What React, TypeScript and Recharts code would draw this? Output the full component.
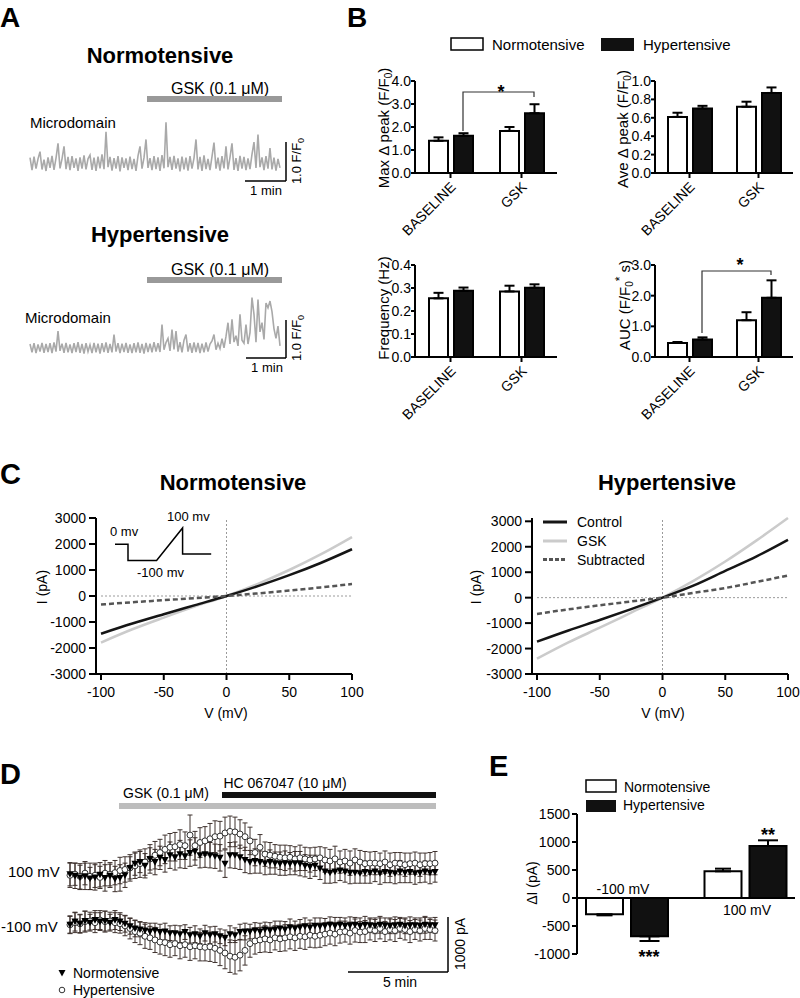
import React from 'react';
import { BarChart, Bar, XAxis, YAxis, ErrorBar, LineChart, Line, ReferenceLine, ScatterChart, Scatter } from 'recharts';

const FONT = '"Liberation Sans", Arial, Helvetica, sans-serif';
const BLACK = '#000';

// ---------------- Panel A : microdomain traces (F/F0) ----------------
const normoTrace = [
  1.15, 0.82, 1.18, 0.86, 1.12, 1.31, 0.84, 1.10, 0.80, 1.16,
  0.88, 1.20, 0.83, 1.14, 1.53, 0.87, 1.12, 1.45, 0.85, 1.17,
  0.82, 1.19, 0.88, 1.13, 0.80, 1.16, 0.86, 1.21, 0.84, 1.12,
  1.22, 0.83, 1.15, 0.80, 1.18, 0.87, 1.24, 0.85, 1.83, 0.90,
  1.17, 0.81, 1.14, 0.86, 1.19, 0.79, 1.16, 0.88, 1.13, 0.82,
  1.18, 0.85, 1.12, 0.80, 1.20, 1.45, 0.86, 1.15, 1.63, 0.88,
  1.14, 0.82, 1.19, 0.85, 1.16, 0.80, 1.22, 0.87, 2.08, 0.90,
  1.17, 0.83, 1.20, 0.86, 1.13, 0.79, 1.18, 0.84, 1.15, 0.81,
  1.19, 0.86, 1.14, 1.63, 0.84, 1.17, 0.80, 1.21, 0.85, 1.12,
  0.82, 1.18, 1.55, 0.86, 1.15, 0.81, 1.19, 0.87, 1.45, 0.84,
  1.16, 1.53, 0.83, 1.14, 0.80, 1.20, 0.86, 1.17, 0.82, 1.13,
  0.85, 1.24, 1.56, 0.88, 1.76, 0.90, 1.16, 0.82, 1.19, 0.86,
  1.40, 0.84, 1.15, 0.81, 1.12, 0.88,
];
const hyperTrace = [
  1.10, 0.88, 1.12, 0.86, 1.09, 0.90, 1.13, 0.87, 1.10, 0.89,
  1.12, 0.86, 1.14, 0.90, 1.44, 0.92, 1.11, 0.87, 1.13, 0.88,
  1.09, 0.86, 1.12, 0.89, 1.15, 0.87, 1.10, 0.85, 1.12, 0.90,
  1.08, 0.86, 1.13, 0.88, 1.11, 0.85, 1.12, 0.89, 1.14, 0.87,
  1.10, 0.88, 1.35, 0.90, 1.12, 0.86, 1.11, 0.89, 1.13, 0.87,
  1.09, 0.86, 1.12, 0.88, 1.14, 0.87, 1.10, 0.85, 1.13, 0.89,
  1.11, 0.88, 1.15, 0.90, 1.12, 0.89, 1.61, 0.95, 1.14, 1.25,
  0.92, 1.48, 0.96, 1.44, 0.90, 1.15, 0.88, 1.20, 1.35, 0.90,
  1.12, 0.87, 1.14, 0.89, 1.13, 0.86, 1.11, 0.88, 1.14, 0.90,
  1.10, 1.18, 1.35, 0.95, 1.12, 0.98, 1.24, 1.00, 1.30, 1.66,
  1.10, 1.75, 1.15, 1.32, 1.05, 1.88, 1.20, 1.12, 1.61, 1.10,
  1.40, 2.32, 1.88, 1.15, 2.27, 1.42, 1.66, 1.22, 2.18, 2.05,
  2.23, 1.95, 1.50, 1.25, 1.57, 1.05,
];

// ---------------- Panel B ----------------
const conditions = ['BASELINE', 'GSK'];
const maxPeakNormo = [1.40, 1.83];
const maxPeakNormoErr = [0.15, 0.17];
const maxPeakHyper = [1.62, 2.60];
const maxPeakHyperErr = [0.11, 0.39];
const maxPeakTicks = [0, 1, 2, 3, 4];
const avePeakNormo = [0.61, 0.72];
const avePeakNormoErr = [0.045, 0.055];
const avePeakHyper = [0.70, 0.87];
const avePeakHyperErr = [0.03, 0.06];
const avePeakTicks = [0, 0.2, 0.4, 0.6, 0.8, 1.0];
const freqNormo = [0.255, 0.285];
const freqNormoErr = [0.024, 0.025];
const freqHyper = [0.288, 0.301];
const freqHyperErr = [0.014, 0.015];
const freqTicks = [0, 0.1, 0.2, 0.3, 0.4];
const aucNormo = [0.46, 1.20];
const aucNormoErr = [0.03, 0.26];
const aucHyper = [0.57, 1.93];
const aucHyperErr = [0.07, 0.57];
const aucTicks = [0, 1, 2, 3];

// ---------------- Panel C : I-V curves ----------------
const voltages = [-100, -75, -50, -25, 0, 25, 50, 75, 100];
const vTicks = [-100, -50, 0, 50, 100];
const iTicks = [-3000, -2000, -1000, 0, 1000, 2000, 3000];
const normoControl = [-1450, -1060, -700, -350, 0, 380, 800, 1270, 1800];
const normoGsk = [-1790, -1280, -830, -400, 0, 470, 1000, 1600, 2270];
const normoSub = [-330, -240, -160, -80, 0, 100, 210, 330, 460];
const hyperControl = [-1730, -1290, -880, -450, 0, 480, 1050, 1620, 2270];
const hyperGsk = [-2400, -1760, -1180, -590, 0, 670, 1420, 2250, 3130];
const hyperSub = [-640, -460, -300, -150, 0, 190, 380, 620, 870];
const protoTime = [0, 1, 1, 3.2, 5.2, 5.2, 7.4];
const protoVoltage = [0, 0, -100, -100, 100, -60, -60];

// ---------------- Panel D : time course (pA change) ----------------
const normo100 = [
  40, 10, -20, 0, -40, -20, 30, -30, 10, -50, -30, 20,
  160, 240, 270, 200, 330, 270, 350, 310, 400, 360, 420, 380,
  440, 470, 400, 420, 400, 380, 350, 240, 400, 400, 360, 310,
  270, 290, 270, 250, 270, 250, 240, 250, 240, 250, 240, 200,
  180, 200, 150, 90, 70, 90, 110, 90, 70, 70, 60, 80,
  70, 90, 60, 80, 70, 60, 90, 70, 80, 60, 70, 90, 70, 80,
];
const normo100Err = [
  220, 240, 230, 250, 210, 240, 230, 250, 220, 240, 250, 230,
  210, 220, 200, 230, 210, 240, 220, 230, 250, 240, 260, 230,
  250, 260, 240, 250, 240, 230, 250, 260, 240, 250, 230, 240,
  220, 230, 210, 220, 230, 210, 220, 230, 210, 220, 230, 210,
  220, 200, 210, 220, 200, 210, 190, 200, 210, 200, 190, 210,
  200, 190, 210, 200, 190, 200, 210, 190, 200, 210, 190, 200, 210, 190,
];
const hyper100 = [
  20, 40, 0, 60, 0, 20, -20, 60, 40, 70, 110, 130,
  160, 200, 240, 270, 330, 400, 450, 510, 550, 560, 600, 580,
  780, 580, 640, 670, 710, 750, 760, 820, 850, 840, 800, 750,
  670, 450, 550, 420, 400, 380, 360, 350, 360, 330, 350, 330,
  310, 330, 350, 310, 290, 330, 270, 290, 250, 310, 270, 240,
  250, 250, 240, 270, 220, 250, 240, 220, 240, 250, 220, 240, 240, 250,
];
const hyper100Err = [
  230, 210, 240, 220, 250, 230, 210, 240, 220, 230, 250, 240,
  250, 240, 260, 250, 270, 260, 250, 270, 260, 270, 280, 260,
  380, 270, 280, 270, 290, 300, 280, 300, 290, 280, 270, 260,
  260, 250, 240, 230, 240, 220, 230, 240, 220, 230, 240, 220,
  230, 220, 210, 230, 220, 240, 210, 220, 230, 210, 220, 230,
  210, 220, 200, 210, 220, 200, 210, 220, 200, 210, 220, 200, 210, 220,
];
const normoM100 = [
  -20, 40, 0, 50, 20, 70, 40, 50, 20, 70, 40, 0,
  -50, -90, -110, -130, -150, -130, -160, -150, -180, -180, -200, -160,
  -220, -200, -240, -180, -220, -200, -240, -270, -200, -220, -160, -150,
  -150, -130, -150, -110, -130, -110, -90, -110, -70, -90, -70, -50,
  -70, -40, -50, -40, -20, -40, -20, -40, -30, -20, -40, -20,
  -30, -40, -20, -30, -40, -30, -20, -40, -30, -30, -40, -20, -30, -30,
];
const normoM100Err = [
  160, 180, 170, 190, 160, 180, 170, 190, 160, 180, 170, 160,
  150, 160, 140, 150, 160, 140, 150, 160, 140, 150, 160, 140,
  150, 160, 140, 150, 160, 150, 140, 150, 160, 140, 150, 160,
  140, 150, 160, 140, 150, 160, 140, 150, 160, 140, 150, 160,
  140, 150, 160, 140, 150, 160, 140, 150, 160, 140, 150, 160,
  140, 150, 160, 140, 150, 160, 140, 150, 160, 140, 150, 160, 140, 150,
];
const hyperM100 = [
  -20, 20, 0, 40, 50, 20, 70, 40, 50, 20, 0, -40,
  -90, -150, -180, -240, -270, -310, -350, -360, -400, -380, -420, -400,
  -440, -420, -440, -450, -440, -470, -510, -560, -620, -640, -600, -510,
  -380, -330, -310, -290, -310, -270, -290, -270, -250, -270, -240, -250,
  -220, -240, -220, -200, -180, -200, -160, -150, -180, -130, -160, -150,
  -110, -130, -90, -150, -110, -130, -90, -110, -150, -110, -130, -90, -110, -130,
];
const hyperM100Err = [
  170, 190, 180, 200, 170, 190, 180, 200, 170, 190, 180, 190,
  200, 210, 220, 230, 220, 240, 230, 250, 240, 230, 250, 240,
  260, 250, 270, 260, 280, 270, 290, 300, 310, 320, 300, 280,
  260, 250, 240, 250, 240, 230, 240, 250, 230, 240, 230, 240,
  230, 220, 230, 220, 210, 220, 210, 200, 210, 220, 200, 210,
  200, 210, 200, 190, 200, 210, 190, 200, 210, 190, 200, 210, 190, 200,
];

// ---------------- Panel E ----------------
const steps = ['-100 mV', '100 mV'];
const deltaINormo = [-290, 476];
const deltaINormoErr = [20, 48];
const deltaIHyper = [-685, 929];
const deltaIHyperErr = [83, 101];
const deltaTicks = [-1000, -500, 0, 500, 1000, 1500];

// ---------------- helpers ----------------
const tickStyle = { fontSize: 14, fill: BLACK, fontFamily: FONT };
const axisStroke = { stroke: BLACK, strokeWidth: 2 };

const RotTick = (props: any) => {
  const { x, y, payload } = props;
  const ax = x + 6;
  const ay = y + 8;
  return (
    <text x={ax} y={ay} transform={`rotate(-45 ${ax} ${ay})`} textAnchor="end" fontSize={14} fontFamily={FONT} fill={BLACK}>
      {payload.value}
    </text>
  );
};

const TriDown = (p: any) => (
  <polygon points={`${p.cx - 3.6},${p.cy - 3} ${p.cx + 3.6},${p.cy - 3} ${p.cx},${p.cy + 3.6}`} fill="#000" />
);
const OpenCircle = (p: any) => <circle cx={p.cx} cy={p.cy} r={3} fill="#fff" stroke="#333" strokeWidth={1} />;

function Trace({ values, px, py, pw, ph, domain }: any) {
  const M = 5;
  const data = values.map((v: number, i: number) => ({ i, v }));
  return (
    <div style={{ position: 'absolute', left: px - M, top: py - M }}>
      <LineChart width={pw + 2 * M} height={ph + 2 * M} data={data} margin={{ top: M, right: M, bottom: M, left: M }}>
        <XAxis type="number" dataKey="i" domain={[0, values.length - 1]} hide />
        <YAxis type="number" domain={domain} hide />
        <Line type="linear" dataKey="v" stroke="#a9a9a9" strokeWidth={1.6} dot={false} isAnimationActive={false} />
      </LineChart>
    </div>
  );
}

function GroupBarChart({ px, py, pw, ph, domain, ticks, normo, normoErr, hyper, hyperErr }: any) {
  const YW = 40, TOP = 10, R = 10, XH = 80;
  const data = conditions.map((c, k) => ({
    cond: c, n: normo[k], h: hyper[k], ne: [0, normoErr[k]], he: [0, hyperErr[k]],
  }));
  return (
    <div style={{ position: 'absolute', left: px - YW, top: py - TOP }}>
      <BarChart width={YW + pw + R} height={TOP + ph + XH} data={data} margin={{ top: TOP, right: R, bottom: 0, left: 0 }} barSize={19} barGap={6}>
        <XAxis dataKey="cond" height={XH} interval={0} tickSize={5} tickLine={axisStroke} axisLine={axisStroke} tick={<RotTick />} />
        <YAxis width={YW} type="number" domain={domain} ticks={ticks} interval={0} tickSize={4} tickMargin={0}
          tickFormatter={(v: number) => v.toFixed(1)} tick={tickStyle} tickLine={axisStroke} axisLine={axisStroke} />
        <Bar dataKey="n" fill="#fff" stroke={BLACK} strokeWidth={2} isAnimationActive={false}>
          <ErrorBar dataKey="ne" width={5} stroke={BLACK} strokeWidth={2} direction="y" />
        </Bar>
        <Bar dataKey="h" fill="#111" stroke={BLACK} strokeWidth={2} isAnimationActive={false}>
          <ErrorBar dataKey="he" width={5} stroke={BLACK} strokeWidth={2} direction="y" />
        </Bar>
      </BarChart>
    </div>
  );
}

function IVChart({ px, py, pw, ph, control, gsk, sub }: any) {
  const YW = 60, TOP = 10, R = 15, XH = 40;
  const data = voltages.map((v, k) => ({ v, c: control[k], g: gsk[k], s: sub[k] }));
  return (
    <div style={{ position: 'absolute', left: px - YW, top: py - TOP }}>
      <LineChart width={YW + pw + R} height={TOP + ph + XH} data={data} margin={{ top: TOP, right: R, bottom: 0, left: 0 }}>
        <XAxis type="number" dataKey="v" domain={[-104, 100]} ticks={vTicks} interval={0} height={XH} tickSize={6} tickMargin={7}
          tick={tickStyle} tickLine={axisStroke} axisLine={axisStroke} />
        <YAxis type="number" domain={[-3000, 3000]} ticks={iTicks} interval={0} width={YW} tickSize={7} tickMargin={3}
          tick={tickStyle} tickLine={axisStroke} axisLine={axisStroke} />
        <ReferenceLine x={0} stroke="#9a9a9a" strokeDasharray="2 2" strokeWidth={1} />
        <ReferenceLine segment={[{ x: -100, y: 0 }, { x: 100, y: 0 }]} stroke="#9a9a9a" strokeDasharray="2 2" strokeWidth={1} />
        <Line type="monotone" dataKey="g" stroke="#cbcbcb" strokeWidth={2.5} dot={false} isAnimationActive={false} />
        <Line type="monotone" dataKey="c" stroke="#151515" strokeWidth={2.5} dot={false} isAnimationActive={false} />
        <Line type="monotone" dataKey="s" stroke="#555" strokeWidth={2.5} strokeDasharray="5 3" dot={false} isAnimationActive={false} />
      </LineChart>
    </div>
  );
}

function Protocol({ px, py, pw, ph }: any) {
  const M = 3;
  const data = protoTime.map((t, k) => ({ t, v: protoVoltage[k] }));
  return (
    <div style={{ position: 'absolute', left: px - M, top: py - M }}>
      <LineChart width={pw + 2 * M} height={ph + 2 * M} data={data} margin={{ top: M, right: M, bottom: M, left: M }}>
        <XAxis type="number" dataKey="t" domain={[0, 7.4]} hide />
        <YAxis type="number" domain={[-100, 100]} hide />
        <Line type="linear" dataKey="v" stroke="#000" strokeWidth={1.5} dot={false} isAnimationActive={false} />
      </LineChart>
    </div>
  );
}

function TimeCourse({ px, py, pw, ph, domain, normo, normoErr, hyper, hyperErr }: any) {
  const M = 10;
  const nd = normo.map((v: number, k: number) => ({ t: k, v, e: normoErr[k] }));
  const hd = hyper.map((v: number, k: number) => ({ t: k, v, e: hyperErr[k] }));
  return (
    <div style={{ position: 'absolute', left: px - M, top: py - M }}>
      <ScatterChart width={pw + 2 * M} height={ph + 2 * M} margin={{ top: M, right: M, bottom: M, left: M }}>
        <XAxis type="number" dataKey="t" domain={[0, normo.length - 1]} hide />
        <YAxis type="number" dataKey="v" domain={domain} hide />
        <Scatter data={hd} shape={OpenCircle} isAnimationActive={false}>
          <ErrorBar dataKey="e" direction="y" width={2.5} stroke="#3f322e" strokeWidth={1} />
        </Scatter>
        <Scatter data={nd} shape={TriDown} isAnimationActive={false}>
          <ErrorBar dataKey="e" direction="y" width={2.5} stroke="#3a2d29" strokeWidth={1} />
        </Scatter>
      </ScatterChart>
    </div>
  );
}

function DeltaIChart({ px, py, pw, ph }: any) {
  const YW = 50, TOP = 10, R = 10, BOT = 10;
  const data = steps.map((s, k) => ({
    step: s,
    n: deltaINormo[k],
    h: deltaIHyper[k],
    ne: deltaINormo[k] < 0 ? [deltaINormoErr[k], 0] : [0, deltaINormoErr[k]],
    he: deltaIHyper[k] < 0 ? [deltaIHyperErr[k], 0] : [0, deltaIHyperErr[k]],
  }));
  return (
    <div style={{ position: 'absolute', left: px - YW, top: py - TOP }}>
      <BarChart width={YW + pw + R} height={TOP + ph + BOT} data={data} margin={{ top: TOP, right: R, bottom: BOT, left: 0 }} barSize={37} barGap={8}>
        <XAxis dataKey="step" hide padding={{ left: -9, right: -10 }} />
        <YAxis width={YW} type="number" domain={[-1000, 1500]} ticks={deltaTicks} interval={0} tickSize={5} tickMargin={2}
          tick={tickStyle} tickLine={axisStroke} axisLine={axisStroke} />
        <Bar dataKey="n" fill="#fff" stroke={BLACK} strokeWidth={2} isAnimationActive={false}>
          <ErrorBar dataKey="ne" width={8} stroke={BLACK} strokeWidth={2} direction="y" />
        </Bar>
        <Bar dataKey="h" fill="#111" stroke={BLACK} strokeWidth={2} isAnimationActive={false}>
          <ErrorBar dataKey="he" width={10} stroke={BLACK} strokeWidth={2} direction="y" />
        </Bar>
        <ReferenceLine y={0} stroke={BLACK} strokeWidth={2} />
      </BarChart>
    </div>
  );
}

const Txt = ({ x, y, size = 14, anchor = 'start', weight = 'normal', rotate, children }: any) => (
  <text x={x} y={y} fontSize={size} textAnchor={anchor} fontWeight={weight} fontFamily={FONT} fill={BLACK}
    transform={rotate ? `rotate(${rotate} ${x} ${y})` : undefined}>
    {children}
  </text>
);

function Overlay() {
  return (
    <svg width={800} height={998} style={{ position: 'absolute', left: 0, top: 0, pointerEvents: 'none' }}>
      {/* Panel letters */}
      <Txt x={0} y={27} size={28} weight="bold">A</Txt>
      <Txt x={347} y={27} size={28} weight="bold">B</Txt>
      <Txt x={0} y={484} size={29} weight="bold">C</Txt>
      <Txt x={0} y={784} size={29} weight="bold">D</Txt>
      <Txt x={489} y={776} size={29} weight="bold">E</Txt>

      {/* Panel A */}
      <Txt x={160} y={63} size={22} weight="bold" anchor="middle">Normotensive</Txt>
      <Txt x={220} y={94} size={16} anchor="middle">GSK (0.1 μM)</Txt>
      <rect x={147} y={96} width={135} height={6} fill="#999" />
      <Txt x={30} y={128} size={15}>Microdomain</Txt>
      <line x1={286} y1={142} x2={286} y2={181} stroke={BLACK} strokeWidth={1.5} />
      <line x1={245} y1={181} x2={286} y2={181} stroke={BLACK} strokeWidth={1.5} />
      <Txt x={266} y={195} size={13} anchor="middle">1 min</Txt>
      <Txt x={301} y={161} size={13} anchor="middle" rotate={-90}>1.0 F/F<tspan fontSize={9} dy={3}>0</tspan></Txt>

      <Txt x={160} y={242} size={22} weight="bold" anchor="middle">Hypertensive</Txt>
      <Txt x={220} y={275} size={16} anchor="middle">GSK (0.1 μM)</Txt>
      <rect x={147} y={277} width={135} height={6} fill="#999" />
      <Txt x={25} y={323} size={15}>Microdomain</Txt>
      <line x1={286} y1={320} x2={286} y2={358} stroke={BLACK} strokeWidth={1.5} />
      <line x1={246} y1={358} x2={286} y2={358} stroke={BLACK} strokeWidth={1.5} />
      <Txt x={267} y={372} size={13} anchor="middle">1 min</Txt>
      <Txt x={301} y={338} size={13} anchor="middle" rotate={-90}>1.0 F/F<tspan fontSize={9} dy={3}>0</tspan></Txt>

      {/* Panel B legend */}
      <rect x={451} y={38} width={32} height={12} fill="#fff" stroke={BLACK} strokeWidth={1.5} />
      <Txt x={492} y={50} size={15}>Normotensive</Txt>
      <rect x={601} y={38} width={33} height={13} fill="#111" />
      <Txt x={643} y={50} size={15}>Hypertensive</Txt>
      {/* Panel B axis titles */}
      <Txt x={389} y={128} size={15} anchor="middle" rotate={-90}>Max Δ peak (F/F<tspan fontSize={10} dy={3}>0</tspan><tspan dy={-3}>)</tspan></Txt>
      <Txt x={628} y={129} size={15} anchor="middle" rotate={-90}>Ave Δ peak (F/F<tspan fontSize={10} dy={3}>0</tspan><tspan dy={-3}>)</tspan></Txt>
      <Txt x={389} y={308} size={15} anchor="middle" rotate={-90}>Frequency (Hz)</Txt>
      <Txt x={630} y={305} size={15} anchor="middle" rotate={-90}>AUC (F/F<tspan fontSize={10} dy={3}>0</tspan><tspan fontSize={12} dy={-9}>*</tspan><tspan dy={6}> s)</tspan></Txt>
      {/* significance brackets */}
      <polyline points="463,131 463,92 534,92 534,97" fill="none" stroke="#333" strokeWidth={1.2} />
      <Txt x={501} y={98} size={18} weight="bold" anchor="middle">*</Txt>
      <polyline points="702,333 702,271 771,271 771,275" fill="none" stroke="#333" strokeWidth={1.2} />
      <Txt x={740} y={271} size={18} weight="bold" anchor="middle">*</Txt>

      {/* Panel C */}
      <Txt x={233} y={490} size={22} weight="bold" anchor="middle">Normotensive</Txt>
      <Txt x={667} y={490} size={22} weight="bold" anchor="middle">Hypertensive</Txt>
      <Txt x={47} y={587} size={14} anchor="middle" rotate={-90}>I (pA)</Txt>
      <Txt x={481} y={587} size={14} anchor="middle" rotate={-90}>I (pA)</Txt>
      <Txt x={226} y={718} size={14} anchor="middle">V (mV)</Txt>
      <Txt x={663} y={718} size={14} anchor="middle">V (mV)</Txt>
      <Txt x={110} y={536} size={13}>0 mv</Txt>
      <Txt x={167} y={521} size={13}>100 mv</Txt>
      <Txt x={137} y={577} size={13}>-100 mv</Txt>
      <line x1={543} y1={522} x2={567} y2={522} stroke="#151515" strokeWidth={3} />
      <Txt x={577} y={527} size={14}>Control</Txt>
      <line x1={543} y1={541} x2={567} y2={541} stroke="#cbcbcb" strokeWidth={3} />
      <Txt x={577} y={546} size={14}>GSK</Txt>
      <line x1={543} y1={559.5} x2={567} y2={559.5} stroke="#555" strokeWidth={3} strokeDasharray="4 2" />
      <Txt x={577} y={565} size={14}>Subtracted</Txt>

      {/* Panel D */}
      <Txt x={285} y={788} size={14} anchor="middle">HC 067047 (10 μM)</Txt>
      <rect x={222} y={792} width={214} height={6} fill="#111" />
      <Txt x={166} y={798} size={14} anchor="middle">GSK (0.1 μM)</Txt>
      <rect x={119} y={803} width={317} height={6} fill="#bdbdbd" />
      <Txt x={8} y={877} size={15}>100 mV</Txt>
      <Txt x={1} y={932} size={15}>-100 mV</Txt>
      <line x1={348} y1={972} x2={448} y2={972} stroke={BLACK} strokeWidth={1.5} />
      <line x1={448} y1={917} x2={448} y2={972} stroke={BLACK} strokeWidth={1.5} />
      <Txt x={400} y={987} size={14} anchor="middle">5 min</Txt>
      <Txt x={465} y={944} size={14} anchor="middle" rotate={-90}>1000 pA</Txt>
      <polygon points="58.5,970 65.5,970 62,976.5" fill="#000" />
      <Txt x={73} y={978} size={14}>Normotensive</Txt>
      <circle cx={62} cy={990} r={2.8} fill="#fff" stroke="#333" strokeWidth={1} />
      <Txt x={73} y={995} size={14}>Hypertensive</Txt>

      {/* Panel E */}
      <rect x={586} y={780} width={30} height={12} fill="#fff" stroke={BLACK} strokeWidth={1.5} />
      <Txt x={624} y={792} size={14}>Normotensive</Txt>
      <rect x={586} y={800} width={30} height={12} fill="#111" />
      <Txt x={623} y={810} size={14}>Hypertensive</Txt>
      <Txt x={537} y={883} size={14} anchor="middle" rotate={-90}>ΔI (pA)</Txt>
      <Txt x={623} y={894} size={14} anchor="middle">{steps[0]}</Txt>
      <Txt x={747} y={915} size={14} anchor="middle">{steps[1]}</Txt>
      <Txt x={649} y={963} size={18} weight="bold" anchor="middle">***</Txt>
      <Txt x={768} y={841} size={18} weight="bold" anchor="middle">**</Txt>
    </svg>
  );
}

export default function App() {
  return (
    <div style={{ position: 'absolute', left: 0, top: 0, width: 800, height: 998, background: '#fff', overflow: 'hidden', fontFamily: FONT }}>
      {/* Panel A */}
      <Trace values={normoTrace} px={30} py={113.6} pw={250} ph={72.2} domain={[0.4, 2.3]} />
      <Trace values={hyperTrace} px={30} py={287.2} pw={250} ph={83.6} domain={[0.4, 2.6]} />

      {/* Panel B */}
      <GroupBarChart px={415} py={81} pw={142} ph={92} domain={[0, 4]} ticks={maxPeakTicks}
        normo={maxPeakNormo} normoErr={maxPeakNormoErr} hyper={maxPeakHyper} hyperErr={maxPeakHyperErr} />
      <GroupBarChart px={655} py={81} pw={138} ph={92} domain={[0, 1]} ticks={avePeakTicks}
        normo={avePeakNormo} normoErr={avePeakNormoErr} hyper={avePeakHyper} hyperErr={avePeakHyperErr} />
      <GroupBarChart px={415} py={265} pw={142} ph={92} domain={[0, 0.4]} ticks={freqTicks}
        normo={freqNormo} normoErr={freqNormoErr} hyper={freqHyper} hyperErr={freqHyperErr} />
      <GroupBarChart px={655} py={265} pw={138} ph={92} domain={[0, 3]} ticks={aucTicks}
        normo={aucNormo} normoErr={aucNormoErr} hyper={aucHyper} hyperErr={aucHyperErr} />

      {/* Panel C */}
      <IVChart px={96} py={518} pw={256} ph={156} control={normoControl} gsk={normoGsk} sub={normoSub} />
      <IVChart px={532} py={518} pw={256} ph={156} control={hyperControl} gsk={hyperGsk} sub={hyperSub} />
      <Protocol px={115} py={527.5} pw={96.2} ph={32.5} />

      {/* Panel D */}
      <TimeCourse px={70} py={814.5} pw={365} ph={82.5} domain={[-400, 1100]}
        normo={normo100} normoErr={normo100Err} hyper={hyper100} hyperErr={hyper100Err} />
      <TimeCourse px={70} py={907.5} pw={365} ph={66} domain={[-900, 300]}
        normo={normoM100} normoErr={normoM100Err} hyper={hyperM100} hyperErr={hyperM100Err} />

      {/* Panel E */}
      <DeltaIChart px={577} py={814} pw={218} ph={140} />

      <Overlay />
    </div>
  );
}
